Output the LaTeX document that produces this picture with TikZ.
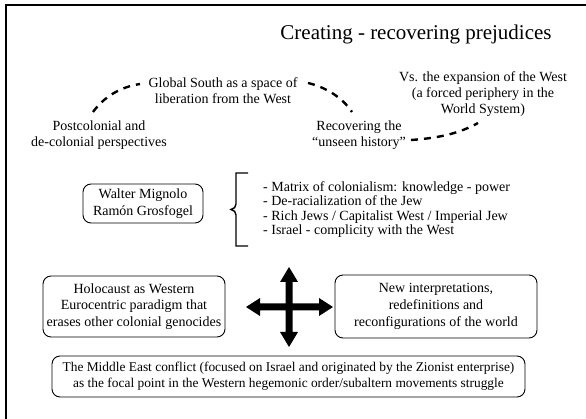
\documentclass[tikz,border=0pt]{standalone}
\usepackage{fontspec}
\setmainfont{Liberation Serif}
\begin{document}
\begin{tikzpicture}[x=1pt,y=-1pt,
  txt/.style={align=center,inner sep=0pt,font=\fontsize{14}{16}\selectfont},
  rbox/.style={draw,rounded corners=8pt,line width=0.9pt,align=center,inner sep=0pt,
    font=\fontsize{14}{16.8}\selectfont},
  dashcurve/.style={line width=2.4pt,dash pattern=on 7pt off 6pt},
]
\useasboundingbox (0,0) rectangle (586,419);
% frame lines on the left and top edges
\draw[line width=1.7pt] (6,419) -- (6,5) -- (586,5);

% title
\node[inner sep=0pt,font=\fontsize{21}{24}\selectfont] (title) at (416,34) {Creating - recovering prejudices};

% upper text block
\node[txt] (post) at (99,135) {Postcolonial and\\de-colonial perspectives};
\node[txt] (south) at (223,90.5) {Global South as a space of\\liberation from the West};
\node[txt] (recov) at (359,135) {Recovering the\\``unseen history''};
\node[txt] (vs) at (483,94) {Vs. the expansion of the West\\(a forced periphery in the\\World System)};

% dashed links between the text groups
\coordinate (a1) at (93,112);  \coordinate (a2) at (140,84);
\coordinate (b1) at (308,83);  \coordinate (b2) at (352,112);
\coordinate (d1) at (411,140); \coordinate (d2) at (478,123);
\draw[dashcurve] (a1) .. controls (104,97) and (120,87) .. (a2);
\draw[dashcurve] (b1) .. controls (325,87) and (342,97) .. (b2);
\draw[dashcurve] (d1) .. controls (440,138) and (460,133) .. (d2);

% authors and bracketed list
\node[rbox,minimum width=120pt,minimum height=39pt] (authors) at (143,203.5) {Walter Mignolo\\Ramón Grosfogel};
\coordinate (br1) at (248,173);
\coordinate (br2) at (248,246);
\draw[line width=1.4pt] (br1) -- (236,173) -- (236,204)
  .. controls (236,207) and (234,209) .. (231,209.5)
  .. controls (234,210) and (236,212) .. (236,215)
  -- (236,246) -- (br2);
\node[align=left,inner sep=0pt,anchor=west,font=\fontsize{14}{14.4}\selectfont] (list) at (263,209.5)
  {- Matrix of colonialism: knowledge - power\\
   - De-racialization of the Jew\\
   - Rich Jews / Capitalist West / Imperial Jew\\
   - Israel - complicity with the West};

% lower boxes
\node[rbox,minimum width=182pt,minimum height=61pt] (holo) at (134,306.5)
  {Holocaust as Western\\Eurocentric paradigm that\\erases other colonial genocides};
\node[rbox,minimum width=202pt,minimum height=63pt] (newint) at (436,306.5)
  {New interpretations,\\redefinitions and\\reconfigurations of the world};
\node[rbox,minimum width=473pt,minimum height=41pt,font=\fontsize{13.4}{16}\selectfont] (mideast) at (288.5,376.5)
  {The Middle East conflict (focused on Israel and originated by the Zionist enterprise)\\
   as the focal point in the Western hegemonic order/subaltern movements struggle};

% four-way arrow
\fill (289,267) -- (298,282) -- (292.5,282) -- (292.5,303.5) -- (319,303.5) -- (319,298)
  -- (333,307) -- (319,316) -- (319,310.5) -- (292.5,310.5) -- (292.5,332) -- (298,332)
  -- (289,347) -- (280,332) -- (285.5,332) -- (285.5,310.5) -- (260,310.5) -- (260,316)
  -- (246,307) -- (260,298) -- (260,303.5) -- (285.5,303.5) -- (285.5,282) -- (280,282) -- cycle;
\end{tikzpicture}
\end{document}
